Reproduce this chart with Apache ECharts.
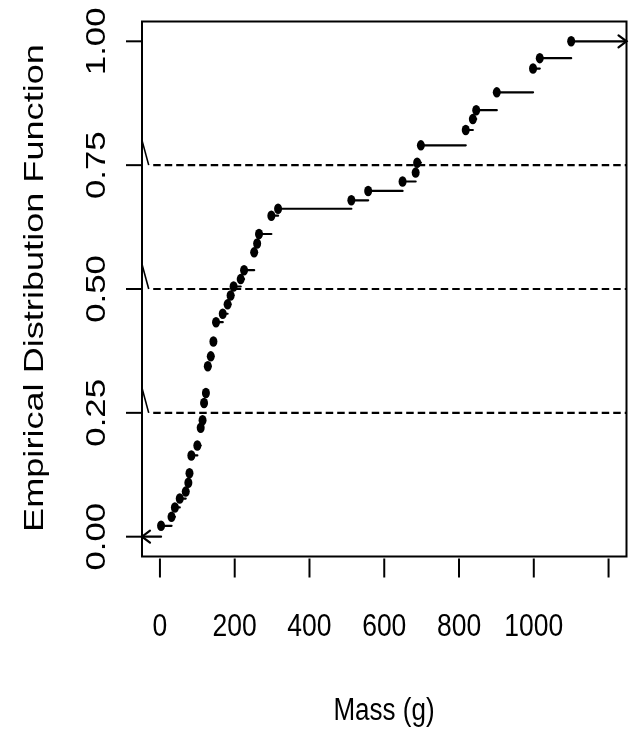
<!DOCTYPE html>
<html><head><meta charset="utf-8">
<script src="https://cdn.jsdelivr.net/npm/echarts@6/dist/echarts.min.js"></script>
<style>html,body{margin:0;padding:0;background:#fff}#c{width:629px;height:733px}</style>
</head><body><div id="c"></div>
<script>
// ---- data ----
const mass = [3,31,40,53,69,76,79,84,100,109,114,118,123,128,136,143,150,168,181,189,197,216,225,252,260,265,298,316,512,557,649,684,688,698,818,837,846,901,998,1016,1100];
const ecdf = [0.022,0.040,0.059,0.077,0.091,0.109,0.128,0.164,0.184,0.220,0.235,0.270,0.290,0.344,0.364,0.394,0.433,0.450,0.469,0.487,0.505,0.520,0.538,0.574,0.592,0.611,0.648,0.662,0.679,0.698,0.717,0.735,0.755,0.790,0.821,0.843,0.861,0.897,0.945,0.966,1.000];
const refLevels = [0.25, 0.5, 0.75];
const xTicks = [0, 200, 400, 600, 800, 1000, 1200];
const xTickLabels = ['0', '200', '400', '600', '800', '1000', ''];
const yTicks = [0, 0.25, 0.5, 0.75, 1];
const yTickLabels = ['0.00', '0.25', '0.50', '0.75', '1.00'];
const xRange = [-48, 1248];
const yRange = [-0.04, 1.04];
const xTitle = 'Mass (g)';
const yTitle = 'Empirical Distribution Function';

const FONT = "'Liberation Sans', Arial, Helvetica, sans-serif";
const chart = echarts.init(document.getElementById('c'), null, {renderer: 'canvas'});

// step segments (no verticals), with open arrows at both infinite ends
const segs = [];
segs.push([xRange[0], mass[0], 0, -1]);
for (let i = 0; i < mass.length - 1; i++) segs.push([mass[i], mass[i + 1], ecdf[i], 0]);
segs.push([mass[mass.length - 1], xRange[1], ecdf[ecdf.length - 1], 1]);

const lineStyle = {stroke: '#000', lineWidth: 2.2, lineCap: 'round'};

chart.setOption({
  animation: false,
  grid: {left: 142, top: 21.5, width: 484.5, height: 535, show: true, borderColor: '#000', borderWidth: 2, backgroundColor: 'transparent'},
  xAxis: {type: 'value', min: xRange[0], max: xRange[1], show: false},
  yAxis: {type: 'value', min: yRange[0], max: yRange[1], show: false},
  graphic: [
    {type: 'text', x: 35, y: 288, rotation: Math.PI / 2, scaleX: 1.29, silent: true,
     style: {text: yTitle, fontSize: 28, fontFamily: FONT, fill: '#000', align: 'center', verticalAlign: 'middle'}},
    {type: 'text', x: 384, y: 711, scaleY: 1.2, silent: true,
     style: {text: xTitle, fontSize: 26, fontFamily: FONT, fill: '#000', align: 'center', verticalAlign: 'middle'}}
  ],
  series: [
    { // reference dashed lines with slashes at the left edge
      type: 'custom', silent: true, clip: false, z: 2,
      data: refLevels.map(v => [v]),
      renderItem: (params, api) => {
        const lv = api.value(0);
        const a = api.coord([xRange[0], lv + 0.05]);
        const b = api.coord([-30, lv]);
        const c = api.coord([-18, lv]);
        const d = api.coord([xRange[1], lv]);
        return {type: 'group', children: [
          {type: 'line', shape: {x1: a[0], y1: a[1], x2: b[0], y2: b[1]}, style: {stroke: '#000', lineWidth: 1.6}},
          {type: 'line', shape: {x1: c[0], y1: c[1], x2: d[0], y2: d[1]}, style: {stroke: '#000', lineWidth: 2.2, lineDash: [7.5, 4]}}
        ]};
      }
    },
    { // horizontal steps
      type: 'custom', silent: true, clip: false, z: 3,
      data: segs,
      renderItem: (params, api) => {
        const y = api.value(2), kind = api.value(3);
        const p0 = api.coord([api.value(0), y]);
        const p1 = api.coord([api.value(1), y]);
        const ch = [{type: 'line', shape: {x1: p0[0], y1: p0[1], x2: p1[0], y2: p1[1]}, style: lineStyle}];
        if (kind === -1) ch.push({type: 'polyline', shape: {points: [[p0[0] + 8, p0[1] - 6], [p0[0], p0[1]], [p0[0] + 8, p0[1] + 6]]}, style: Object.assign({fill: null}, lineStyle)});
        if (kind === 1) ch.push({type: 'polyline', shape: {points: [[p1[0] - 8, p1[1] - 6], [p1[0], p1[1]], [p1[0] - 8, p1[1] + 6]]}, style: Object.assign({fill: null}, lineStyle)});
        return {type: 'group', children: ch};
      }
    },
    { // jump points
      type: 'scatter', silent: true, z: 4,
      symbol: 'circle', symbolSize: [8, 10.5],
      itemStyle: {color: '#000', opacity: 1},
      data: mass.map((m, i) => [m, ecdf[i]])
    },
    { // x ticks and labels
      type: 'custom', silent: true, clip: false, z: 5,
      data: xTicks.map(v => [v]),
      renderItem: (params, api) => {
        const p = api.coord([api.value(0), yRange[0]]);
        return {type: 'group', children: [
          {type: 'line', shape: {x1: p[0], y1: p[1] + 2, x2: p[0], y2: p[1] + 21}, style: {stroke: '#000', lineWidth: 2}},
          {type: 'text', x: p[0], y: p[1] + 70.5, scaleY: 1.2,
           style: {text: xTickLabels[params.dataIndex], fontSize: 26.5, fontFamily: FONT, fill: '#000', align: 'center', verticalAlign: 'middle'}}
        ]};
      }
    },
    { // y ticks and labels
      type: 'custom', silent: true, clip: false, z: 5,
      data: yTicks.map(v => [v]),
      renderItem: (params, api) => {
        const p = api.coord([xRange[0], api.value(0)]);
        return {type: 'group', children: [
          {type: 'line', shape: {x1: p[0] - 16, y1: p[1], x2: p[0] - 1, y2: p[1]}, style: {stroke: '#000', lineWidth: 2}},
          {type: 'text', x: p[0] - 45, y: p[1], rotation: Math.PI / 2, scaleX: 1.22,
           style: {text: yTickLabels[params.dataIndex], fontSize: 28.5, fontFamily: FONT, fill: '#000', align: 'center', verticalAlign: 'middle'}}
        ]};
      }
    }
  ]
});
</script>
</body></html>
